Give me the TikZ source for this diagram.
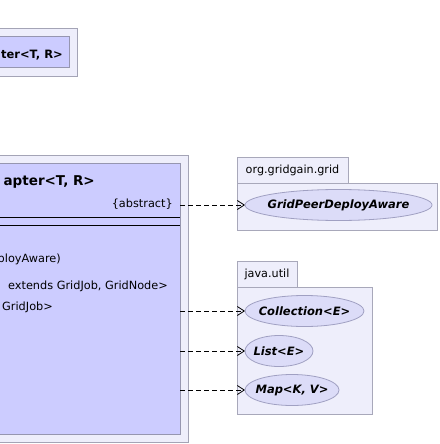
\documentclass[tikz,border=0pt]{standalone}
\usepackage{fontspec}
\setmainfont{DejaVu Sans}
\usetikzlibrary{arrows.meta,shapes.geometric}

\definecolor{framefill}{HTML}{EEEEFB}
\definecolor{frameline}{HTML}{A4A4B6}
\definecolor{classfill}{HTML}{CCCCFF}
\definecolor{classline}{HTML}{9696B0}
\definecolor{pkgfill}{HTML}{EEEEFB}
\definecolor{pkgline}{HTML}{A8A8BA}
\definecolor{ifacefill}{HTML}{DCDCF8}
\definecolor{ifaceline}{HTML}{A0A0C2}

\begin{document}
\begin{tikzpicture}[x=1pt,y=-1pt,
  frame/.style={draw=frameline, fill=framefill, line width=1pt},
  classbox/.style={rectangle, draw=classline, fill=classfill, line width=1pt,
    inner sep=0pt, outer sep=0pt},
  titletext/.style={inner sep=0pt, font=\fontsize{13.5}{15}\selectfont\bfseries},
  membertext/.style={inner sep=0pt, font=\fontsize{11.3}{13}\selectfont},
  pkg/.style={rectangle, draw=pkgline, fill=pkgfill, line width=1pt,
    inner sep=0pt, outer sep=0pt, font=\fontsize{11.2}{13}\selectfont},
  iface/.style={ellipse, draw=ifaceline, fill=ifacefill, line width=0.8pt,
    inner sep=0pt, outer sep=0pt, minimum height=31pt,
    font=\fontsize{11.5}{13}\selectfont\bfseries\itshape},
  dep/.style={line width=0.8pt, dash pattern=on 5pt off 3pt,
    -{Straight Barb[length=7pt,width=9pt]}},
]
\useasboundingbox (0,0) rectangle (439,444);
\clip (0,0) rectangle (439,444);

% upper class, seen only at its right end
\path[frame] (-40,29) rectangle (77,76);
\node[classbox, anchor=north east, minimum width=120pt, minimum height=30pt]
  (topcls) at (69,37) {};
\node[titletext, font=\fontsize{11.5}{13}\selectfont\bfseries, anchor=base east]
  (topname) at (63,59) {ter<T, R>};

% main abstract class
\path[frame] (-40,155) rectangle (188,442);
\node[classbox, anchor=north east, minimum width=240pt, minimum height=271pt]
  (cls) at (180,163) {};
\node[titletext, anchor=base east] (clsname) at (95,185) {apter<T, R>};
\node[membertext, anchor=base east] (clsabs) at (173,207) {\{abstract\}};
\draw[line width=1pt] (cls.west |- 0,217) -- (cls.east |- 0,217);
\draw[line width=1pt] (cls.west |- 0,225) -- (cls.east |- 0,225);
\node[membertext, anchor=base east] (m1) at (61,262) {ployAware)};
\node[membertext, anchor=base east] (m2) at (168,289) {extends GridJob, GridNode>};
\node[membertext, anchor=base east] (m3) at (53,310) {GridJob>};

% package org.gridgain.grid
\node[pkg, anchor=north west, minimum width=111pt, minimum height=26pt]
  (orgtab) at (237,157) {org.gridgain.grid};
\node[pkg, anchor=north west, minimum width=200pt, minimum height=47pt]
  (orgbody) at (237,183) {};
\node[iface, minimum width=187pt] (gpda) at (338.5,205)
  {\makebox[0pt]{GridPeerDeployAware}};

% package java.util
\node[pkg, anchor=north west, minimum width=60pt, minimum height=26pt]
  (utiltab) at (237,261) {java.util};
\node[pkg, anchor=north west, minimum width=135pt, minimum height=127pt]
  (utilbody) at (237,287) {};
\node[iface, minimum width=119pt] (coll) at (304.5,311)
  {\makebox[0pt]{Collection<E>}};
\node[iface, minimum width=68pt] (list) at (279,351)
  {\makebox[0pt]{List<E>}};
\node[iface, minimum width=94pt] (map) at (292,390)
  {\makebox[0pt]{Map<K, V>}};

% dependencies
\draw[dep] (cls.east |- gpda.west) -- (gpda.west);
\draw[dep] (cls.east |- coll.west) -- (coll.west);
\draw[dep] (cls.east |- list.west) -- (list.west);
\draw[dep] (cls.east |- map.west) -- (map.west);
\end{tikzpicture}
\end{document}
